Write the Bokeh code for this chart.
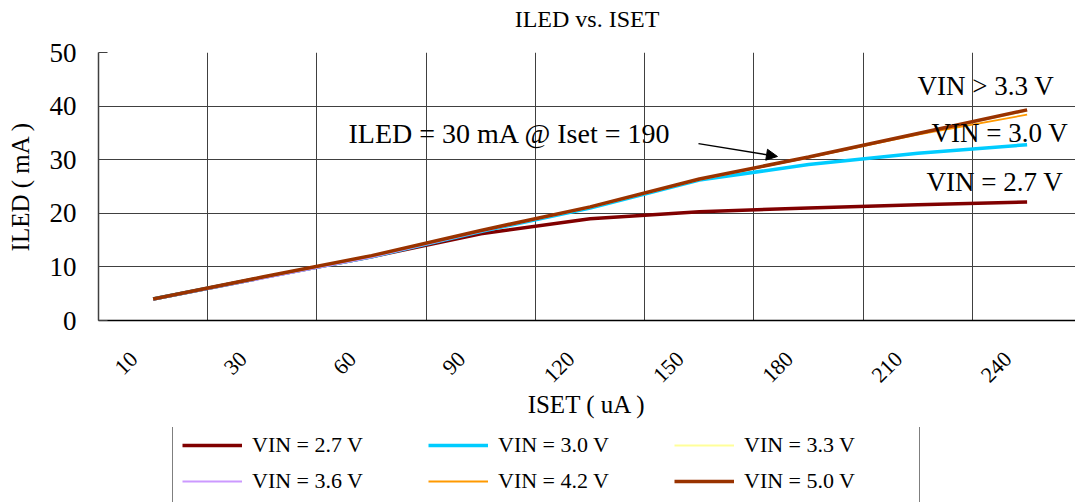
import numpy as np
from math import pi
from bokeh.plotting import figure
from bokeh.layouts import column
from bokeh.models import (Range1d, FixedTicker, Label, Arrow, NormalHead,
                          Legend, LegendItem, LinearAxis)
from bokeh.embed import file_html
from bokeh.resources import INLINE

# ---------------- data ----------------
categories = ["10", "30", "60", "90", "120", "150", "180", "210", "240"]
vin_2_7 = [4.0, 8.0, 11.9, 16.2, 19.0, 20.3, 21.0, 21.6, 22.1]
vin_3_0 = [4.0, 8.0, 11.9, 16.6, 21.0, 26.2, 29.1, 31.2, 32.8]
vin_3_3 = [4.0, 8.0, 12.0, 16.7, 21.1, 26.3, 30.4, 34.8, 39.1]
vin_3_6 = [3.9, 7.8, 11.8, 16.6, 21.1, 26.3, 30.4, 34.8, 39.2]
vin_4_2 = [4.0, 8.0, 12.0, 16.7, 21.1, 26.3, 30.4, 34.7, 38.4]
vin_5_0 = [4.0, 8.1, 12.1, 16.8, 21.2, 26.4, 30.5, 34.9, 39.3]
series_names = ["VIN = 2.7 V", "VIN = 3.0 V", "VIN = 3.3 V",
                "VIN = 3.6 V", "VIN = 4.2 V", "VIN = 5.0 V"]
series_values = [vin_2_7, vin_3_0, vin_3_3, vin_3_6, vin_4_2, vin_5_0]
series_colors = ["#800000", "#00CCFF", "#FFFF99", "#CC99FF", "#FF9900", "#993300"]
series_widths = [3.5, 3.5, 1.8, 1.8, 1.8, 3.5]
y_ticks = [0, 10, 20, 30, 40, 50]

FONT = "Liberation Serif"

n = len(categories)
x = np.arange(n) + 0.5

p = figure(width=1075, height=427, output_backend="svg", toolbar_location=None,
           x_range=Range1d(0, 8.943), y_range=Range1d(0, 50),
           min_border_left=98, min_border_right=0, min_border_top=52,
           min_border_bottom=107)
p.outline_line_color = None
p.background_fill_color = "white"
p.border_fill_color = "white"

# grids (category boundaries on x)
p.xgrid.ticker = FixedTicker(ticks=list(range(1, n + 1)))
p.ygrid.ticker = FixedTicker(ticks=y_ticks)
for g in (p.xgrid, p.ygrid):
    g.grid_line_color = "#404040"
    g.grid_line_width = 1

# bottom x axis: labels near category centres
xax = p.below[0]
label_pos = [round(i + 0.5 - 0.174, 3) for i in range(n)]
xax.ticker = FixedTicker(ticks=label_pos)
xax.major_label_overrides = {pos: c for pos, c in zip(label_pos, categories)}
xax.major_label_orientation = pi / 4
xax.major_tick_line_color = None
xax.minor_tick_line_color = None
xax.major_tick_out = 0
xax.major_tick_in = 0
xax.major_label_standoff = 35
xax.major_label_text_font = FONT
xax.major_label_text_font_size = "22px"
xax.major_label_text_color = "black"
xax.axis_line_color = "black"
xax.axis_line_width = 1.5
xax.axis_label = "ISET ( uA )"
xax.axis_label_text_font = FONT
xax.axis_label_text_font_size = "25px"
xax.axis_label_text_font_style = "normal"
xax.axis_label_text_color = "black"
xax.axis_label_standoff = -1

# y axis
yax = p.left[0]
yax.ticker = FixedTicker(ticks=y_ticks)
yax.major_tick_in = 9
yax.major_tick_out = 0
yax.minor_tick_line_color = None
yax.major_tick_line_color = "#404040"
yax.major_label_standoff = 22
yax.major_label_text_font = FONT
yax.major_label_text_font_size = "27px"
yax.major_label_text_color = "black"
yax.axis_line_color = "#404040"
yax.axis_line_width = 1.5
yax.axis_label = "ILED ( mA )"
yax.axis_label_text_font = FONT
yax.axis_label_text_font_size = "25px"
yax.axis_label_text_font_style = "normal"
yax.axis_label_text_color = "black"
yax.axis_label_standoff = 13

# chart title (drawn as the label of an empty top axis so it can sit high)
title_axis = LinearAxis(ticker=FixedTicker(ticks=[]), axis_label="ILED vs. ISET",
                        axis_line_color=None, major_tick_line_color=None,
                        minor_tick_line_color=None, major_tick_out=0, major_tick_in=0,
                        major_label_standoff=0, axis_label_standoff=21,
                        axis_label_text_font=FONT, axis_label_text_font_size="24px",
                        axis_label_text_font_style="normal",
                        axis_label_text_color="black")
p.add_layout(title_axis, "above")

# lines
for name, vals, color, w in zip(series_names, series_values, series_colors, series_widths):
    p.line(x, vals, line_color=color, line_width=w)

# annotations
p.add_layout(Label(x=2.288, y=34.9, text="ILED = 30 mA @ Iset = 190",
                   text_font=FONT, text_font_size="28px", text_color="black",
                   text_baseline="middle"))
p.add_layout(Arrow(end=NormalHead(size=11, fill_color="black", line_color="black"),
                   x_start=5.492, y_start=33.0, x_end=6.215, y_end=30.6,
                   line_color="black", line_width=1.5))
for txt, lx, ly in [("VIN > 3.3 V", 7.497, 43.8),
                    ("VIN = 3.0 V", 7.625, 34.9),
                    ("VIN = 2.7 V", 7.579, 25.9)]:
    p.add_layout(Label(x=lx, y=ly, text=txt, text_font=FONT, text_font_size="27px",
                       text_color="black", text_baseline="middle"))

# legend strip below the chart (its bottom edge is cut like the original)
p_leg = figure(width=1075, height=75, output_backend="svg", toolbar_location=None,
               x_axis_location=None, y_axis_location=None,
               x_range=Range1d(0, 1), y_range=Range1d(0, 1),
               min_border_left=98, min_border_right=0, min_border_top=0,
               min_border_bottom=0)
p_leg.outline_line_color = None
p_leg.xgrid.visible = False
p_leg.ygrid.visible = False
items = []
for name, color, w in zip(series_names, series_colors, series_widths):
    r = p_leg.line(x=[np.nan], y=[np.nan], line_color=color, line_width=w)
    items.append(LegendItem(label=name, renderers=[r]))
legend = Legend(items=items, orientation="horizontal", ncols=3,
                location=(74, -2), margin=0, padding=9, spacing=10,
                glyph_width=60, glyph_height=24, label_height=24, label_width=166,
                label_standoff=10, label_text_font=FONT, label_text_font_size="22px",
                label_text_color="black", border_line_color="black",
                border_line_width=1, background_fill_color="white",
                background_fill_alpha=1.0)
p_leg.add_layout(legend)

layout = column(p, p_leg, spacing=0)
open("out.html", "w").write(file_html(layout, INLINE))
